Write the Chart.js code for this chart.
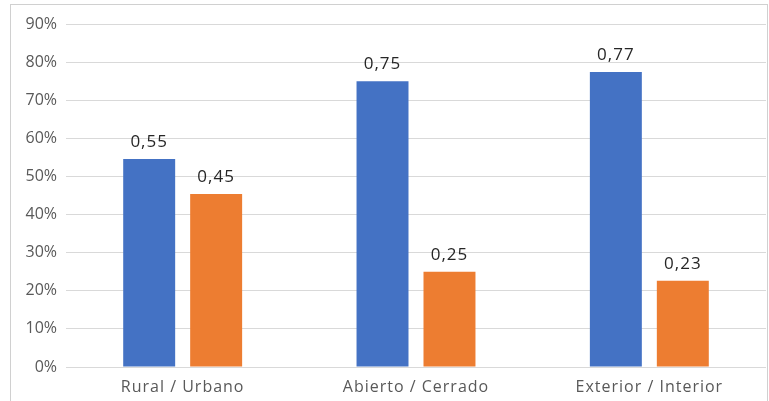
<!DOCTYPE html>
<html lang="es">
<head>
  <meta charset="UTF-8" />
  <title>Gráfico</title>
  <script src="https://cdn.jsdelivr.net/npm/chart.js"></script>
  <style>
    html, body { margin: 0; padding: 0; background: #fff; }
    .chart-container { width: 769px; height: 401px; position: relative; }
  </style>
</head>
<body>
  <div class="chart-container">
    <canvas id="grafico"></canvas>
  </div>

  <script>
    // datos
    const categorias = ['Rural / Urbano', 'Abierto / Cerrado', 'Exterior / Interior'];
    const serieAzul = [0.546, 0.75, 0.774];
    const serieNaranja = [0.454, 0.25, 0.226];
    const ticksY = ['0%', '10%', '20%', '30%', '40%', '50%', '60%', '70%', '80%', '90%'];

    const fuente = "'Open Sans', 'Noto Sans', sans-serif";

    // etiquetas de datos encima de cada barra + nombres de categoría
    const etiquetasPlugin = {
      id: 'etiquetas',
      afterDatasetsDraw(chart) {
        const ctx = chart.ctx;
        ctx.save();
        ctx.letterSpacing = '1px';
        ctx.font = '17px ' + fuente;
        ctx.fillStyle = '#262626';
        ctx.textAlign = 'center';
        ctx.textBaseline = 'alphabetic';
        chart.data.datasets.forEach((ds, i) => {
          chart.getDatasetMeta(i).data.forEach((bar, j) => {
            const txt = ds.data[j].toFixed(2).replace('.', ',');
            ctx.fillText(txt, bar.x, bar.y - 12);
          });
        });

        // categorías del eje x
        const x = chart.scales.x;
        ctx.font = '16px ' + fuente;
        ctx.fillStyle = '#595959';
        categorias.forEach((c, i) => {
          ctx.fillText(c, x.getPixelForTick(i), 392);
        });
        ctx.restore();
      }
    };

    // marco gris del área del gráfico
    const marcoPlugin = {
      id: 'marco',
      beforeDraw(chart) {
        const ctx = chart.ctx;
        ctx.save();
        ctx.strokeStyle = '#d0d0d0';
        ctx.lineWidth = 1;
        ctx.strokeRect(10.5, 4.5, 757, 420);
        ctx.restore();
      }
    };

    new Chart(document.getElementById('grafico').getContext('2d'), {
      type: 'bar',
      data: {
        labels: categorias,
        datasets: [
          {
            label: 'Serie 1',
            data: serieAzul,
            backgroundColor: '#4472C4',
            categoryPercentage: 0.574,
            barPercentage: 0.776
          },
          {
            label: 'Serie 2',
            data: serieNaranja,
            backgroundColor: '#ED7D31',
            categoryPercentage: 0.574,
            barPercentage: 0.776
          }
        ]
      },
      options: {
        responsive: true,
        maintainAspectRatio: false,
        animation: false,
        layout: { padding: { left: 10, right: 3, top: 24, bottom: 0 } },
        plugins: {
          legend: { display: false },
          tooltip: { enabled: false }
        },
        scales: {
          x: {
            grid: { display: false },
            border: { display: false },
            ticks: { display: false },
            afterFit(s) { s.height = 34; }
          },
          y: {
            min: 0,
            max: 0.9,
            grid: { color: '#d9d9d9', lineWidth: 1, drawTicks: false },
            border: { display: false },
            ticks: {
              stepSize: 0.1,
              color: '#595959',
              font: { family: fuente, size: 16 },
              padding: 9,
              callback: (v, i) => ticksY[i]
            },
            afterFit(s) { s.width = 56; }
          }
        }
      },
      plugins: [etiquetasPlugin, marcoPlugin]
    });
  </script>
</body>
</html>
